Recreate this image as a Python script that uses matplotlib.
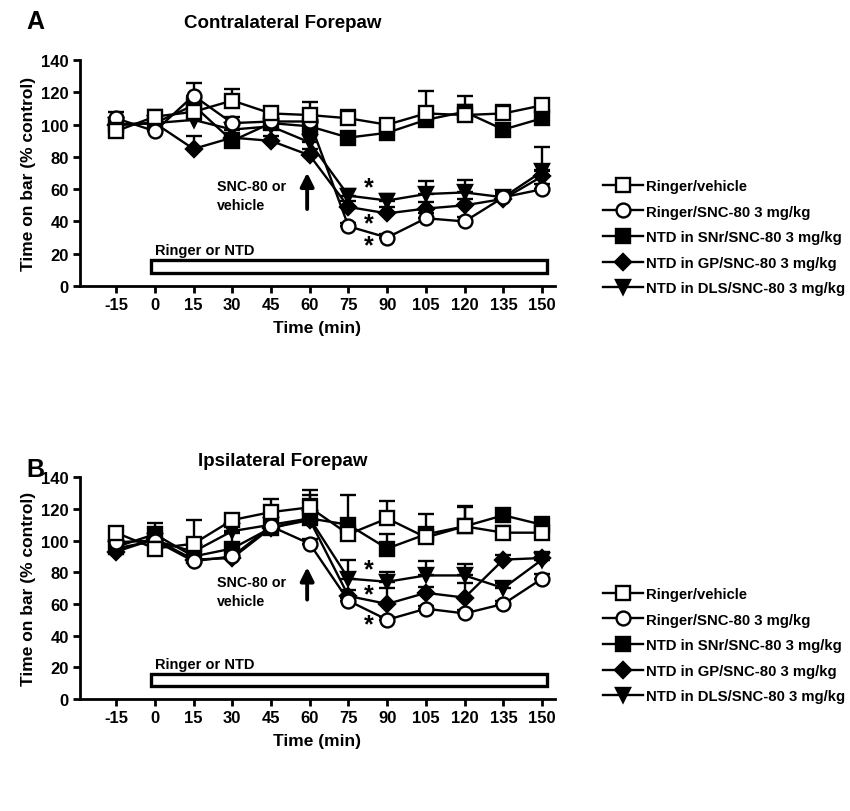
import numpy as np
import matplotlib
matplotlib.use("Agg")
import matplotlib.pyplot as plt
from matplotlib.lines import Line2D
from matplotlib.patches import Rectangle

plt.rcParams['font.family'] = ['Liberation Sans', 'DejaVu Sans']
plt.rcParams['font.weight'] = 'bold'
plt.rcParams['axes.unicode_minus'] = False

times = [-15, 0, 15, 30, 45, 60, 75, 90, 105, 120, 135, 150]
labels = ['Ringer/vehicle', 'Ringer/SNC-80 3 mg/kg', 'NTD in SNr/SNC-80 3 mg/kg',
          'NTD in GP/SNC-80 3 mg/kg', 'NTD in DLS/SNC-80 3 mg/kg']

# panel A - contralateral forepaw
a_veh = [96, 105, 108, 115, 107, 106, 104, 100, 107, 106, 107, 112]
a_snc = [104, 96, 118, 101, 102, 102, 37, 30, 42, 40, 55, 60]
a_snr = [100, 101, 112, 90, 101, 99, 92, 95, 103, 108, 97, 104]
a_gp = [100, 101, 85, 92, 90, 81, 49, 45, 48, 50, 54, 68]
a_dls = [100, 101, 103, 97, 99, 89, 56, 53, 57, 58, 55, 71]
a_veh_err = [5, 4, 5, 7, 3, 8, 5, 3, 14, 6, 5, 3]
a_snc_err = [4, 5, 8, 4, 3, 3, 2, 2, 3, 3, 3, 3]
a_snr_err = [3, 3, 5, 4, 4, 5, 3, 3, 5, 10, 3, 3]
a_gp_err = [3, 3, 8, 3, 3, 4, 4, 4, 4, 4, 3, 4]
a_dls_err = [3, 3, 3, 4, 3, 6, 4, 4, 8, 8, 3, 15]

# panel B - ipsilateral forepaw
b_veh = [105, 95, 98, 113, 118, 121, 104, 114, 102, 109, 105, 105]
b_snc = [99, 100, 87, 90, 109, 98, 62, 50, 57, 54, 60, 76]
b_snr = [96, 104, 90, 95, 108, 114, 110, 95, 104, 109, 116, 110]
b_gp = [93, 101, 88, 89, 108, 113, 65, 60, 67, 64, 88, 89]
b_dls = [95, 100, 93, 106, 110, 114, 76, 74, 78, 78, 70, 88]
b_veh_err = [3, 4, 15, 3, 8, 11, 4, 11, 4, 13, 4, 10]
b_snc_err = [3, 3, 2, 2, 3, 3, 2, 2, 2, 2, 2, 3]
b_snr_err = [3, 7, 4, 10, 10, 12, 19, 9, 13, 12, 4, 4]
b_gp_err = [3, 3, 3, 3, 3, 4, 4, 10, 4, 9, 3, 4]
b_dls_err = [3, 3, 3, 3, 9, 15, 12, 6, 9, 7, 3, 4]

# marker, face colour
styles = [('s', 'white'), ('o', 'white'), ('s', 'black'), ('D', 'black'), ('v', 'black')]
draw_order = [4, 3, 2, 1, 0]


def msize(marker):
    return 8 if marker == 'D' else 10


def draw_panel(ax, series, errs, snc_y, arrow_y, stars):
    for i in draw_order:
        marker, face = styles[i]
        up = np.array(errs[i])
        ax.errorbar(times, series[i], yerr=[np.zeros_like(up), up], color='black',
                    lw=1.7, elinewidth=1.7, capsize=5.5, capthick=1.7,
                    marker=marker, ms=msize(marker),
                    mfc=face, mec='black', mew=1.7, zorder=3 + (4 - i))
    ax.set_xlim(-29, 155)
    ax.set_ylim(0, 140)
    ax.set_xticks(times)
    ax.set_yticks(range(0, 141, 20))
    for s in ['top', 'right']:
        ax.spines[s].set_visible(False)
    for s in ['left', 'bottom']:
        ax.spines[s].set_linewidth(2)
    ax.tick_params(width=2, length=5, labelsize=12, pad=3)
    for lab in ax.get_xticklabels() + ax.get_yticklabels():
        lab.set_fontweight('bold')
    ax.set_xlabel('Time (min)', fontsize=12.5, fontweight='bold', labelpad=6)
    ax.set_ylabel('Time on bar (% control)', fontsize=12.5, fontweight='bold', labelpad=4)

    # treatment bar
    ax.add_patch(Rectangle((-1.5, 8), 153.5, 8, facecolor='white', edgecolor='black',
                           lw=2.4, zorder=2, clip_on=False))
    ax.text(0, 22, 'Ringer or NTD', fontsize=10.5, fontweight='bold', va='center')
    ax.text(24, snc_y, 'SNC-80 or\nvehicle', fontsize=10.3, fontweight='bold',
            va='center', linespacing=1.45)
    ax.annotate('', xy=(59, arrow_y[1]), xytext=(59, arrow_y[0]),
                arrowprops=dict(arrowstyle='-|>', color='black', lw=2.8,
                                mutation_scale=20))
    for sy in stars:
        ax.text(83, sy, '*', fontsize=18, fontweight='bold', ha='center', va='center')


def add_legend(fig, top):
    handles = []
    for marker, face in styles:
        handles.append(Line2D([], [], color='black', lw=1.7, marker=marker,
                              ms=msize(marker), mfc=face, mec='black', mew=1.7))
    fig.legend(handles, labels, loc='upper left', bbox_to_anchor=(0.709, top),
               frameon=False, handlelength=2.7, handletextpad=0.2,
               labelspacing=0.78, borderaxespad=0, borderpad=0,
               prop={'weight': 'bold', 'size': 10.7})


fig = plt.figure(figsize=(8.5, 8.12), dpi=100)
ax_a = fig.add_axes([0.094, 0.6466, 0.559, 0.278])
ax_b = fig.add_axes([0.094, 0.138, 0.559, 0.273])

draw_panel(ax_a, [a_veh, a_snc, a_snr, a_gp, a_dls],
           [a_veh_err, a_snc_err, a_snr_err, a_gp_err, a_dls_err],
           56, (46, 72), [61, 39, 25])
draw_panel(ax_b, [b_veh, b_snc, b_snr, b_gp, b_dls],
           [b_veh_err, b_snc_err, b_snr_err, b_gp_err, b_dls_err],
           68, (61, 85), [82, 66, 47])

fig.text(35 / 850, 1 - 22 / 812, 'A', fontsize=18, fontweight='bold', va='center', ha='center')
fig.text(283 / 850, 1 - 24 / 812, 'Contralateral Forepaw', fontsize=13.5,
         fontweight='bold', va='center', ha='center')
fig.text(35 / 850, 1 - 470 / 812, 'B', fontsize=18, fontweight='bold', va='center', ha='center')
fig.text(283 / 850, 1 - 462 / 812, 'Ipsilateral Forepaw', fontsize=13.5,
         fontweight='bold', va='center', ha='center')

add_legend(fig, 1 - 180 / 812)
add_legend(fig, 1 - 588 / 812)

fig.savefig('out.png', dpi=100)
